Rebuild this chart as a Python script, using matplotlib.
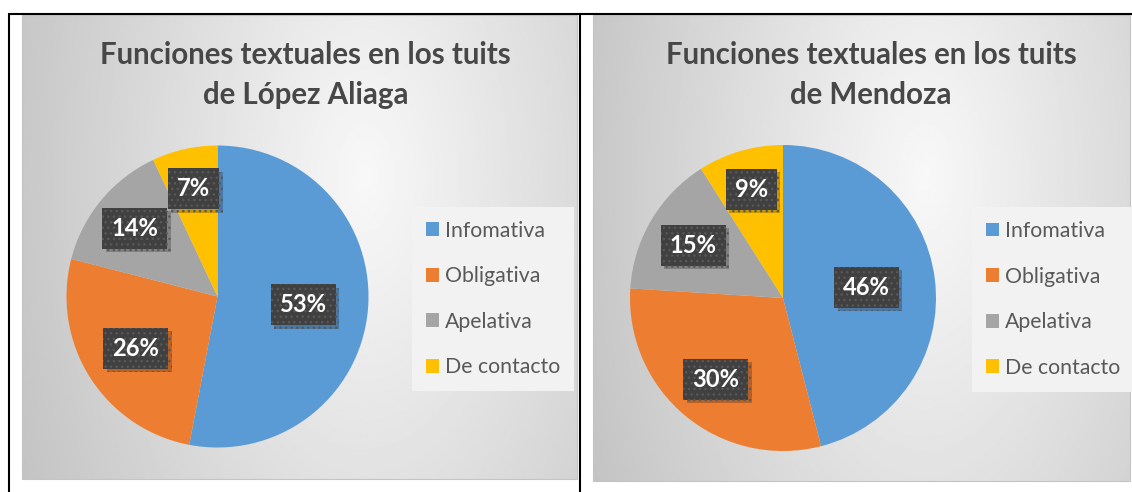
import matplotlib
matplotlib.use("Agg")
import matplotlib.pyplot as plt
import numpy as np
from matplotlib import patheffects as pe
from matplotlib.patches import Rectangle

# ---------------- data ----------------
categories = ["Infomativa", "Obligativa", "Apelativa", "De contacto"]
lopez_values = [53, 26, 14, 7]
mendoza_values = [46, 30, 15, 9]
title_lopez = ["Funciones textuales en los tuits", "de López Aliaga"]
title_mendoza = ["Funciones textuales en los tuits", "de Mendoza"]
colors = ["#5B9BD5", "#ED7D31", "#A5A5A5", "#FFC000"]

# ---------------- layout / style ----------------
W, H = 1132, 492
FONT = "Lato"
TITLE_COLOR = "#474747"
LEGEND_COLOR = "#595959"

fig = plt.figure(figsize=(W / 100, H / 100), dpi=100)
fig.patch.set_facecolor("white")
bg = fig.add_axes([0, 0, 1, 1], zorder=0)
bg.axis("off")
renderer = fig.canvas.get_renderer()


def fit_size(text, target_px, weight="normal", base=20.0):
    t = fig.text(0, 0, text, fontsize=base, fontweight=weight, family=FONT)
    w = t.get_window_extent(renderer).width
    t.remove()
    return base * target_px / w


def gradient_panel(x0, x1, y0, y1):
    nu, nv = 300, 300
    u = np.linspace(0, 1, nu)[None, :]
    v = np.linspace(0, 1, nv)[:, None]
    cx, cy = 0.62, 0.35
    val = 248 - np.sqrt((77 * (u - cx)) ** 2 + (34 * (v - cy)) ** 2)
    img = np.clip(val, 0, 255) / 255.0
    bg.imshow(img, cmap="gray", vmin=0, vmax=1, extent=(x0, x1, y1, y0),
              aspect="auto", interpolation="bilinear", zorder=0)
    bg.add_patch(Rectangle((x0, y0), x1 - x0, y1 - y0, fill=False,
                           edgecolor="#c4c4c4", linewidth=0.8, zorder=1))


panels = [
    dict(x0=22, x1=577, y0=15, y1=479, cx=217.5, cy=296.5, r=151,
         values=lopez_values, title=title_lopez, tcx=305.5,
         lab_r=[0.57, 0.64, 0.71, 0.73], leg=(411.7, 206.7)),
    dict(x0=593, x1=1130, y0=15, y1=481, cx=783, cy=298, r=153,
         values=mendoza_values, title=title_mendoza, tcx=871,
         lab_r=[0.55, 0.69, 0.68, 0.74], leg=(971.7, 207)),
]

title_fs = fit_size(title_lopez[0], 413, "bold")
label_fs = fit_size("53%", 47, "bold")
legend_fs = fit_size("De contacto", 115, "normal")

for p in panels:
    gradient_panel(p["x0"], p["x1"], p["y0"], p["y1"])
    bg.text(p["tcx"], 64, p["title"][0], ha="center", va="baseline",
            fontsize=title_fs, fontweight="bold", family=FONT, color=TITLE_COLOR, zorder=3)
    bg.text(p["tcx"], 104, p["title"][1], ha="center", va="baseline",
            fontsize=title_fs, fontweight="bold", family=FONT, color=TITLE_COLOR, zorder=3)

    cx, cy, r = p["cx"], p["cy"], p["r"]
    ax = fig.add_axes([(cx - r) / W, 1 - (cy + r) / H, 2 * r / W, 2 * r / H], zorder=2)
    wedges, _ = ax.pie(p["values"], colors=colors, startangle=90, counterclock=False,
                       radius=1, wedgeprops=dict(linewidth=0))
    ax.set_xlim(-1, 1)
    ax.set_ylim(-1, 1)
    ax.patch.set_visible(False)

    for w, val, f in zip(wedges, p["values"], p["lab_r"]):
        ang = np.deg2rad((w.theta1 + w.theta2) / 2)
        t = ax.text(f * np.cos(ang), f * np.sin(ang), f"{val}%", ha="center", va="center",
                    fontsize=label_fs, fontweight="bold", family=FONT, color="white",
                    zorder=5, clip_on=False,
                    bbox=dict(boxstyle="square,pad=0.38", facecolor="#404040",
                              edgecolor="#585858", linewidth=0, hatch="..."))
        t.get_bbox_patch().set_path_effects([
            pe.SimplePatchShadow(offset=(2.5, -2.5), shadow_rgbFace="black", alpha=0.22),
            pe.Normal()])

    lx, ly = p["leg"]
    ax.legend(wedges, categories, loc="upper left",
              bbox_to_anchor=(lx / W, 1 - ly / H), bbox_transform=fig.transFigure,
              frameon=True, fancybox=False, facecolor="#f2f2f2", edgecolor="none",
              framealpha=1, prop=dict(family=FONT, size=legend_fs),
              labelcolor=LEGEND_COLOR, labelspacing=1.2, handlelength=0.62,
              handleheight=0.62, handletextpad=0.28, borderpad=0.66,
              borderaxespad=0)

bg.set_xlim(0, W)
bg.set_ylim(H, 0)

# table borders
bg.plot([8, W], [13.5, 13.5], color="black", linewidth=1.5, zorder=4, solid_capstyle="butt")
bg.plot([9, 9], [13.5, H], color="black", linewidth=1.5, zorder=4, solid_capstyle="butt")
bg.plot([580, 580], [13.5, H], color="black", linewidth=1.5, zorder=4, solid_capstyle="butt")

fig.savefig("out.png", dpi=100, facecolor="white")
